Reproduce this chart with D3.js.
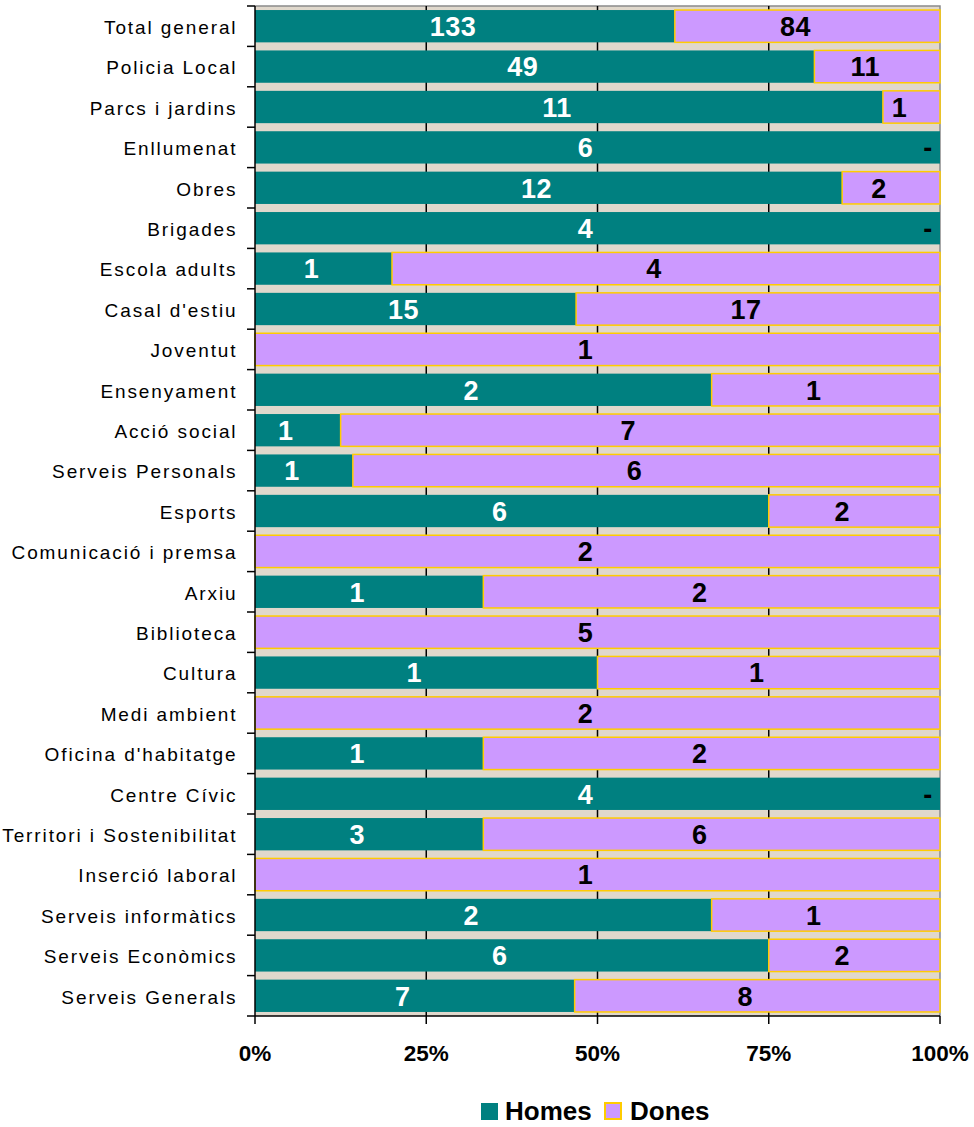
<!DOCTYPE html>
<html><head><meta charset="utf-8">
<script src="https://cdn.jsdelivr.net/npm/d3@7"></script>
<style>body{margin:0;background:#fff;}svg{display:block;font-family:Arial,"Liberation Sans",sans-serif;}</style>
</head><body>
<svg id="c" width="974" height="1127"></svg>
<script>
const categories = ["Total general","Policia Local","Parcs i jardins","Enllumenat","Obres","Brigades","Escola adults","Casal d'estiu","Joventut","Ensenyament","Acció social","Serveis Personals","Esports","Comunicació i premsa","Arxiu","Biblioteca","Cultura","Medi ambient","Oficina d'habitatge","Centre Cívic","Territori i Sostenibilitat","Inserció laboral","Serveis informàtics","Serveis Econòmics","Serveis Generals"];
const homes = [133,49,11,6,12,4,1,15,0,2,1,1,6,0,1,0,1,0,1,4,3,0,2,6,7];
const dones = [84,11,1,0,2,0,4,17,1,1,7,6,2,2,2,5,1,2,2,0,6,1,1,2,8];
const xTicks = [0,0.25,0.5,0.75,1];
const seriesNames = ["Homes","Dones"];

const svg = d3.select("#c");
const L=255, R=940, T=6, B=1016;
const x = d3.scaleLinear().domain([0,1]).range([L,R]);
const y = d3.scaleBand().domain(categories).range([T,B]).paddingInner(0.2).paddingOuter(0.1);
const band = d3.scaleBand().domain(categories).range([T,B]);
const LBL_OFF = -12;

svg.append("rect").attr("x",L).attr("y",T).attr("width",R-L).attr("height",B-T).attr("fill","#e0d8cc");
svg.append("path").attr("d",`M${L},${T}H${R}V${B}`).attr("fill","none").attr("stroke","#8a8a8a").attr("stroke-width",1.5);
svg.append("g").selectAll("line").data(xTicks.slice(1,4)).join("line")
  .attr("x1",d=>x(d)).attr("x2",d=>x(d)).attr("y1",T).attr("y2",B)
  .attr("stroke","#000").attr("stroke-width",1.5);

const rows = categories.map((c,i)=>({c, h:homes[i], d:dones[i], t:homes[i]+dones[i]}));

const g = svg.append("g");
g.selectAll("rect.h").data(rows).join("rect").attr("class","h")
  .attr("x",x(0)).attr("y",r=>y(r.c)).attr("height",y.bandwidth())
  .attr("width",r=>x(r.h/r.t)-x(0)).attr("fill","#008080");
g.selectAll("rect.d").data(rows.filter(r=>r.d>0)).join("rect").attr("class","d")
  .attr("x",r=>x(r.h/r.t)).attr("y",r=>y(r.c)).attr("height",y.bandwidth())
  .attr("width",r=>x(1)-x(r.h/r.t)).attr("fill","#cc99ff").attr("stroke","#ffcc00").attr("stroke-width",1.5);

g.selectAll("text.h").data(rows.filter(r=>r.h>0)).join("text").attr("class","h")
  .attr("x",r=>(x(0)+x(r.h/r.t))/2+LBL_OFF).attr("y",r=>y(r.c)+y.bandwidth()/2)
  .attr("dy","0.36em").attr("text-anchor","middle").attr("fill","#fff")
  .attr("font-weight","bold").attr("font-size",27).attr("letter-spacing",0.5).text(r=>r.h);
g.selectAll("text.d").data(rows).join("text").attr("class","d")
  .attr("x",r=>r.d>0?(x(r.h/r.t)+x(1))/2+LBL_OFF:x(1)+LBL_OFF).attr("y",r=>y(r.c)+y.bandwidth()/2)
  .attr("dy","0.36em").attr("text-anchor","middle").attr("fill","#000")
  .attr("font-weight","bold").attr("font-size",27).attr("letter-spacing",0.5).text(r=>r.d>0?r.d:"-");

svg.append("line").attr("x1",L).attr("x2",L).attr("y1",T).attr("y2",B).attr("stroke","#000").attr("stroke-width",1.5);
svg.append("g").selectAll("line").data(categories.concat(["__end"])).join("line")
  .attr("x1",L-8).attr("x2",L).attr("y1",(d,i)=>T+i*band.step()).attr("y2",(d,i)=>T+i*band.step())
  .attr("stroke","#000").attr("stroke-width",1.5);
svg.append("g").selectAll("text").data(categories).join("text")
  .attr("x",237.5).attr("y",d=>band(d)+band.bandwidth()/2+1).attr("dy","0.36em")
  .attr("text-anchor","end").attr("font-size",19).attr("letter-spacing",1.9).attr("fill","#000").text(d=>d);

svg.append("line").attr("x1",L).attr("x2",R).attr("y1",B).attr("y2",B).attr("stroke","#000").attr("stroke-width",1.5);
svg.append("g").selectAll("line").data(xTicks).join("line")
  .attr("x1",d=>x(d)).attr("x2",d=>x(d)).attr("y1",B).attr("y2",B+8)
  .attr("stroke","#000").attr("stroke-width",1.5);
svg.append("g").selectAll("text").data(xTicks).join("text")
  .attr("x",d=>x(d)).attr("y",1053).attr("dy","0.36em").attr("text-anchor","middle")
  .attr("font-weight","bold").attr("font-size",22.5).text(d3.format(".0%"));

const lg = svg.append("g");
lg.append("rect").attr("x",481).attr("y",1103).attr("width",17).attr("height",17).attr("fill","#008080");
lg.append("text").attr("x",505).attr("y",1111).attr("dy","0.36em").attr("font-weight","bold").attr("font-size",26).text(seriesNames[0]);
lg.append("rect").attr("x",605).attr("y",1103).attr("width",16).attr("height",16).attr("fill","#cc99ff").attr("stroke","#ffcc00").attr("stroke-width",2);
lg.append("text").attr("x",630).attr("y",1111).attr("dy","0.36em").attr("font-weight","bold").attr("font-size",26).text(seriesNames[1]);
</script>
</body></html>
